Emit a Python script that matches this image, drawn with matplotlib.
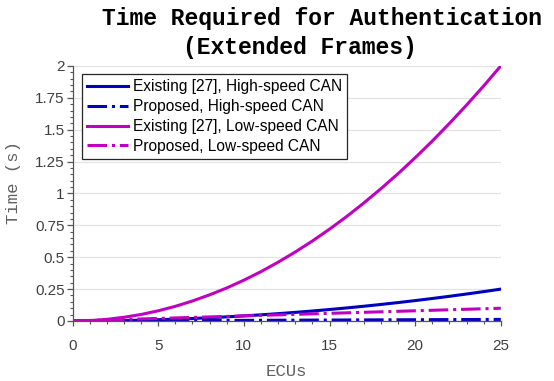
import matplotlib
matplotlib.use("Agg")
import matplotlib.pyplot as plt
from matplotlib.ticker import MultipleLocator

# ECU counts
ecus = list(range(0, 26))

# times in seconds
existing_low = [0, 0.003, 0.013, 0.029, 0.051, 0.08, 0.115, 0.157, 0.205, 0.259,
                0.32, 0.387, 0.461, 0.541, 0.627, 0.72, 0.819, 0.925, 1.037, 1.155,
                1.28, 1.411, 1.549, 1.693, 1.843, 2.0]
existing_high = [0, 0.0004, 0.0016, 0.0036, 0.0064, 0.01, 0.0144, 0.0196, 0.0256, 0.0324,
                 0.04, 0.0484, 0.0576, 0.0676, 0.0784, 0.09, 0.1024, 0.1156, 0.1296, 0.1444,
                 0.16, 0.1764, 0.1936, 0.2116, 0.2304, 0.25]
proposed_low = [0, 0.004, 0.008, 0.012, 0.016, 0.02, 0.024, 0.028, 0.032, 0.036,
                0.04, 0.044, 0.048, 0.052, 0.056, 0.06, 0.064, 0.068, 0.072, 0.076,
                0.08, 0.084, 0.088, 0.092, 0.096, 0.1]
proposed_high = [0, 0.0005, 0.001, 0.0015, 0.002, 0.0025, 0.003, 0.0035, 0.004, 0.0045,
                 0.005, 0.0055, 0.006, 0.0065, 0.007, 0.0075, 0.008, 0.0085, 0.009, 0.0095,
                 0.01, 0.0105, 0.011, 0.0115, 0.012, 0.0125]

labels = ['Existing [27], High-speed CAN', 'Proposed, High-speed CAN',
          'Existing [27], Low-speed CAN', 'Proposed, Low-speed CAN']

blue = '#0000c0'
magenta = '#c000c0'

fig = plt.figure(figsize=(5.54, 3.81), dpi=100)
ax = fig.add_axes([0.131, 0.1575, 0.773, 0.6695])

ax.plot(ecus, existing_high, color=blue, lw=2.2, label=labels[0])
ax.plot(ecus, proposed_high, color=blue, lw=2.2, ls='-.', label=labels[1])
ax.plot(ecus, existing_low, color=magenta, lw=2.2, label=labels[2])
ax.plot(ecus, proposed_low, color=magenta, lw=2.2, ls='-.', label=labels[3])

ax.set_xlim(0, 25)
ax.set_ylim(0, 2)
ax.xaxis.set_major_locator(MultipleLocator(5))
ax.xaxis.set_minor_locator(MultipleLocator(1))
ax.yaxis.set_minor_locator(MultipleLocator(0.05))
ax.set_yticks([0, 0.25, 0.5, 0.75, 1, 1.25, 1.5, 1.75, 2])
ax.set_yticklabels(['0', '0.25', '0.5', '0.75', '1', '1.25', '1.5', '1.75', '2'])

ax.grid(True, axis='y', which='major', color='#e3e3e3', lw=0.9)
ax.set_axisbelow(True)
for s in ['top', 'right']:
    ax.spines[s].set_visible(False)
for s in ['left', 'bottom']:
    ax.spines[s].set_color('#555555')
    ax.spines[s].set_linewidth(0.9)

ax.tick_params(which='major', direction='out', width=0.9, color='#555555',
               labelsize=11, labelcolor='#404040')
ax.tick_params(axis='x', which='major', length=3.8, pad=9)
ax.tick_params(axis='y', which='major', length=4.3, pad=1.5)
ax.tick_params(which='minor', direction='out', length=2.5, width=0.8, color='#555555')
for lab in ax.get_xticklabels() + ax.get_yticklabels():
    lab.set_family('Liberation Sans')

ax.set_xlabel('ECUs', family='Liberation Mono', fontsize=12.4, color='#606060')
ax.set_ylabel('Time (s)', family='Liberation Mono', fontsize=12.4, color='#606060')
ax.xaxis.set_label_coords(0.5, -0.17)
ax.yaxis.set_label_coords(-0.12, 0.543)

leg = ax.legend(loc='upper left', bbox_to_anchor=(0.022, 0.97), fancybox=False,
                framealpha=1, edgecolor='#262626', handlelength=2.6, handletextpad=0.3,
                borderpad=0.35, labelspacing=0.32, borderaxespad=0,
                prop={'family': 'Liberation Sans', 'size': 11.2})
leg.get_frame().set_linewidth(0.9)

fig.text(321.5 / 554, 1 - 18.5 / 381, 'Time Required for Authentication', ha='center',
         va='center', family='Liberation Mono', weight='bold', fontsize=16.6)
fig.text(300 / 554, 1 - 47.5 / 381, '(Extended Frames)', ha='center', va='center',
         family='Liberation Mono', weight='bold', fontsize=16.6)

fig.savefig('out.png', dpi=100)
